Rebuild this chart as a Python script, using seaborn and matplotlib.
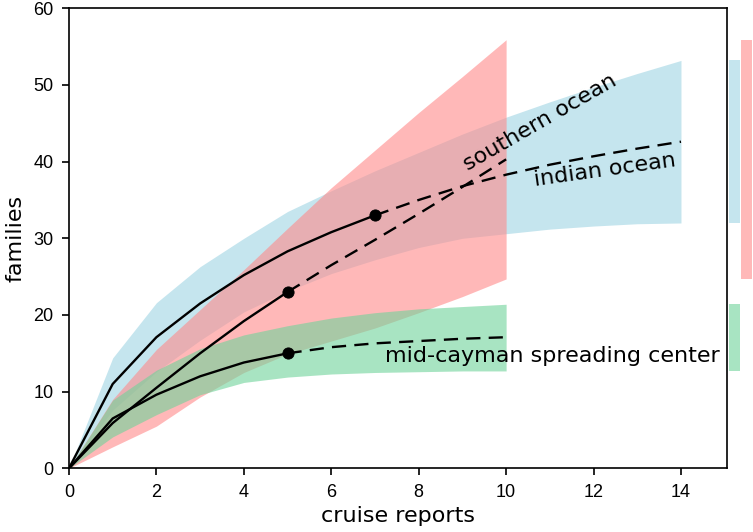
import numpy as np
import pandas as pd
import matplotlib
matplotlib.use("Agg")
import matplotlib.pyplot as plt
import seaborn as sns

# ---------------- data ----------------
# indian ocean (observed at 7 cruise reports)
indian_x = [0, 1, 2, 3, 4, 5, 6, 7, 8, 9, 10, 11, 12, 13, 14]
indian_est = [0, 11.0, 17.1, 21.5, 25.2, 28.3, 30.8, 33.0, 35.0, 36.8, 38.3, 39.6, 40.7, 41.7, 42.6]
indian_upper = [0, 14.4, 21.6, 26.3, 30.0, 33.5, 36.2, 38.8, 41.2, 43.6, 45.8, 47.8, 49.7, 51.5, 53.2]
indian_lower = [0, 7.6, 12.6, 16.7, 20.4, 23.1, 25.4, 27.2, 28.8, 30.0, 30.6, 31.2, 31.6, 31.9, 32.0]
indian_obs = 7

# southern ocean (observed at 5 cruise reports)
southern_x = [0, 1, 2, 3, 4, 5, 6, 7, 8, 9, 10]
southern_est = [0, 5.9, 10.5, 15.0, 19.2, 23.0, 26.5, 29.8, 33.2, 36.7, 40.3]
southern_upper = [0, 9.0, 15.5, 20.7, 25.9, 31.3, 36.6, 41.5, 46.4, 51.1, 55.9]
southern_lower = [0, 2.8, 5.5, 9.3, 12.5, 14.9, 16.6, 18.3, 20.3, 22.4, 24.7]
southern_obs = 5

# mid-cayman spreading center (observed at 5 cruise reports)
cayman_x = [0, 1, 2, 3, 4, 5, 6, 7, 8, 9, 10]
cayman_est = [0, 6.5, 9.6, 12.0, 13.8, 15.0, 15.8, 16.3, 16.6, 16.9, 17.1]
cayman_upper = [0, 8.9, 12.8, 15.6, 17.4, 18.6, 19.6, 20.3, 20.8, 21.1, 21.4]
cayman_lower = [0, 4.1, 7.0, 9.6, 11.2, 11.9, 12.3, 12.5, 12.6, 12.7, 12.7]
cayman_obs = 5

labels = ["indian ocean", "southern ocean", "mid-cayman spreading center"]
x_ticks = [0, 2, 4, 6, 8, 10, 12, 14]
y_ticks = [0, 10, 20, 30, 40, 50, 60]

# ---------------- style ----------------
sns.set_style("ticks")
plt.rcParams["font.family"] = ["DejaVu Sans"]
plt.rcParams["text.color"] = "black"
plt.rcParams["axes.labelcolor"] = "black"
plt.rcParams["xtick.color"] = "black"
plt.rcParams["ytick.color"] = "black"

fig = plt.figure(figsize=(7.53, 5.32), dpi=100)
ax = fig.add_axes([0.0916, 0.1197, 0.9659 - 0.0916, 0.9844 - 0.1197])

colors = {"indian": "#9fd4e3", "southern": "#ff8a8a", "cayman": "#6fd39a"}
alpha = 0.6

series = [
    ("indian", indian_x, indian_est, indian_lower, indian_upper, indian_obs),
    ("southern", southern_x, southern_est, southern_lower, southern_upper, southern_obs),
    ("cayman", cayman_x, cayman_est, cayman_lower, cayman_upper, cayman_obs),
]

# bands
for name, xs, est, lo, up, obs in series:
    ax.fill_between(xs, lo, up, color=colors[name], alpha=alpha, linewidth=0, zorder=1)

# lines
for name, xs, est, lo, up, obs in series:
    df = pd.DataFrame({"x": xs, "y": est})
    interp = df[df["x"] <= obs]
    extrap = df[df["x"] >= obs]
    sns.lineplot(data=interp, x="x", y="y", ax=ax, color="black", linewidth=1.7,
                 sort=False, estimator=None, zorder=3)
    sns.lineplot(data=extrap, x="x", y="y", ax=ax, color="black", linewidth=1.7,
                 linestyle=(0, (6, 3.5)), sort=False, estimator=None, zorder=3)
    obs_pt = df[df["x"] == obs]
    sns.scatterplot(data=obs_pt, x="x", y="y", ax=ax, color="black", s=65,
                    edgecolor="black", zorder=4)

# side bars showing final interval (outside the axes)
bar_specs = [
    ("indian", indian_lower[-1], indian_upper[-1], 15.10, 15.35),
    ("cayman", cayman_lower[-1], cayman_upper[-1], 15.10, 15.35),
    ("southern", southern_lower[-1], southern_upper[-1], 15.38, 15.63),
]
for name, lo, up, x0, x1 in bar_specs:
    ax.fill_between([x0, x1], [lo, lo], [up, up], color=colors[name], alpha=alpha,
                    linewidth=0, clip_on=False, zorder=1)

# labels on the curves
ax.text(10.78, 45.1, labels[1], rotation=30, ha="center", va="center",
        fontsize=16, color="black", rotation_mode="anchor", zorder=5)
ax.text(12.25, 38.9, labels[0], rotation=8, ha="center", va="center",
        fontsize=16, color="black", rotation_mode="anchor", zorder=5)
ax.text(11.06, 14.6, labels[2], rotation=0, ha="center", va="center",
        fontsize=16, color="black", zorder=5)

ax.set_xlim(0, 15.06)
ax.set_ylim(0, 60)
ax.set_xticks(x_ticks)
ax.set_yticks(y_ticks)
ax.set_xticklabels([str(v) for v in x_ticks], fontfamily="Liberation Sans", fontsize=13)
ax.set_yticklabels([str(v) for v in y_ticks], fontfamily="Liberation Sans", fontsize=13)
ax.tick_params(direction="out", length=5, width=1.2, color="black", labelcolor="black", pad=6)
for sp in ax.spines.values():
    sp.set_visible(True)
    sp.set_linewidth(1.2)
    sp.set_color("black")

ax.set_xlabel("cruise reports", fontsize=16, labelpad=4)
ax.set_ylabel("families", fontsize=16, labelpad=6)

fig.savefig("out.png", dpi=100)
